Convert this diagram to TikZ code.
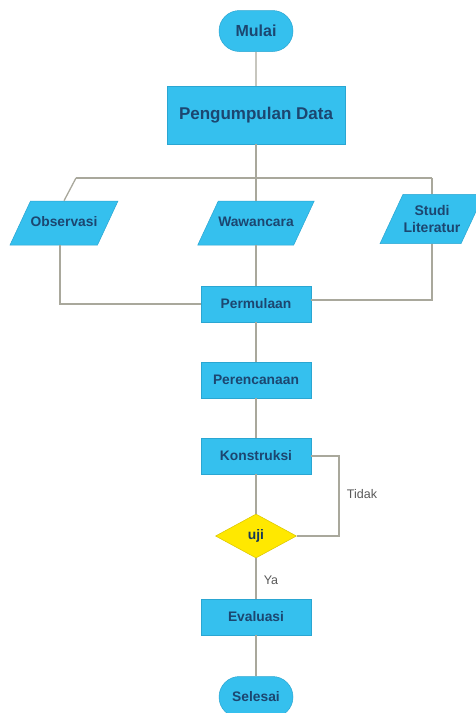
\documentclass[tikz,border=0pt]{standalone}
\usepackage{fontspec}
\setmainfont{Liberation Sans}
\usetikzlibrary{shapes.geometric,shapes.misc}
\definecolor{boxcyan}{HTML}{35C0EE}
\definecolor{boxedge}{HTML}{2AA6D2}
\definecolor{inkblue}{HTML}{1C4670}
\definecolor{wire}{HTML}{A9A89C}
\definecolor{yesno}{HTML}{FFE800}
\begin{document}
\begin{tikzpicture}[x=1pt,y=-1pt,
    txt/.style={font=\fontsize{13.8}{16}\selectfont\bfseries,text=inkblue},
    terminal/.style={rounded rectangle,fill=boxcyan,draw=boxedge,line width=0.5pt,
      minimum width=74pt,minimum height=41pt,inner sep=0pt,txt},
    process/.style={rectangle,fill=boxcyan,draw=boxedge,line width=0.5pt,
      minimum width=110pt,minimum height=36pt,inner sep=0pt,txt},
    io/.style={trapezium,trapezium left angle=65,trapezium right angle=115,
      trapezium stretches body=true,fill=boxcyan,draw=boxedge,line width=0.5pt,
      minimum width=108pt,inner xsep=0pt,inner ysep=15.5pt,
      text height=10pt,text depth=3pt,txt,align=center},
    decision/.style={diamond,aspect=1.86,fill=yesno,draw=yesno!85!black,line width=0.5pt,
      minimum width=81pt,minimum height=44pt,inner sep=0pt,txt,text=inkblue!80!black},
    wire/.style={draw=wire,line width=1.3pt},
    note/.style={font=\fontsize{12.5}{15}\selectfont,text=black!65}]
  \clip (0,0) rectangle (476,713);
  \fill[white] (0,0) rectangle (476,713);

  \node[terminal,font=\fontsize{16}{18}\selectfont\bfseries] (mulai) at (256,31) {Mulai};
  \node[process,minimum width=178pt,minimum height=58pt,
        font=\fontsize{17}{20}\selectfont\bfseries] (data) at (256,115) {Pengumpulan Data};
%%%
  \node[io] (observasi) at (64,223) {Observasi};
  \node[io] (wawancara) at (256,223) {Wawancara};
  \node[io,minimum width=104pt,inner ysep=11pt,text height=,text depth=,
        font=\fontsize{14}{17}\selectfont\bfseries] (studi) at (432,219) {Studi\\Literatur};
%%%
  \node[process] (permulaan)   at (256,304) {Permulaan};
  \node[process] (perencanaan) at (256,380) {Perencanaan};
  \node[process] (konstruksi)  at (256,456) {Konstruksi};
  \node[decision] (uji)        at (256,536) {uji};
  \node[process] (evaluasi)    at (256,617) {Evaluasi};
  \node[terminal] (selesai)    at (256,697) {Selesai};
%%%
  \node[note] (tidak) at (362,494) {Tidak};
  \node[note] (ya)    at (271,580) {Ya};
  \coordinate (busL) at (76,178);
  \coordinate (busR) at (432,178);
  \coordinate (loop) at (339,496);

  \draw[wire] (mulai) -- (data);
  \draw[wire] (data) -- (data |- wawancara.north);
  \draw[wire] (busL) -- (busR);
  \draw[wire] (busL) -- (observasi.north);
  \draw[wire] (busR) -- (busR |- studi.north);
  \draw[wire] (permulaan |- wawancara.south) -- (permulaan);
  \draw[wire] ([xshift=-4pt]observasi.south) |- (permulaan.west);
  \draw[wire] (studi.south -| busR) |- ([yshift=4pt]permulaan.east);
  \draw[wire] (permulaan) -- (perencanaan);
  \draw[wire] (perencanaan) -- (konstruksi);
  \draw[wire] (konstruksi) -- (uji);
  \draw[wire] (konstruksi.east) -| (loop) |- (uji.east);
  \draw[wire] (uji) -- (evaluasi);
  \draw[wire] (evaluasi) -- (selesai);
\end{tikzpicture}
\end{document}
